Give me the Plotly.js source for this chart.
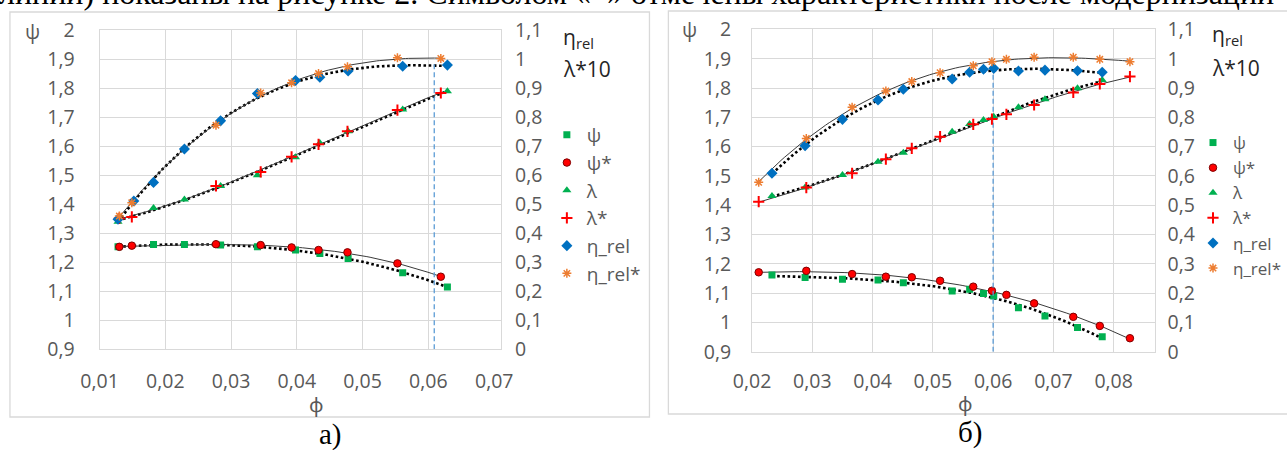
<!DOCTYPE html>
<html><head><meta charset="utf-8">
<script src="https://cdn.plot.ly/plotly-3.0.1.min.js"></script>
<style>html,body{margin:0;padding:0;background:#fff;overflow:hidden}#chart{width:1287px;height:450px}</style>
</head><body><div id="chart"></div>
<script>
// ---------- Chart а) ----------
const phiA      = [0.0128, 0.0182, 0.0229, 0.0284, 0.0340, 0.0398, 0.0435, 0.0478, 0.0561, 0.0629];
const psiA      = [1.253, 1.261, 1.261, 1.259, 1.253, 1.242, 1.230, 1.213, 1.164, 1.115];
const lambda10A = [0.439, 0.487, 0.516, 0.563, 0.600, 0.662, 0.711, 0.751, 0.826, 0.889];
const phiEtaA   = [0.0128, 0.0152, 0.0182, 0.0229, 0.0284, 0.0340, 0.0398, 0.0435, 0.0478, 0.0561, 0.0629];
const etaA      = [0.448, 0.511, 0.575, 0.690, 0.787, 0.881, 0.926, 0.937, 0.959, 0.975, 0.979];
const phiStarA      = [0.0130, 0.0149, 0.0277, 0.0345, 0.0392, 0.0433, 0.0477, 0.0553, 0.0619];
const psiStarA      = [1.253, 1.257, 1.262, 1.259, 1.251, 1.242, 1.234, 1.196, 1.150];
const lambda10StarA = [0.451, 0.456, 0.563, 0.611, 0.663, 0.706, 0.751, 0.824, 0.883];
const etaStarA      = [0.459, 0.505, 0.772, 0.883, 0.918, 0.950, 0.973, 1.004, 1.002];
const markA_phi = [0.0609, 0.0609];
const markA_val = [0, 0.99];

// ---------- Chart б) ----------
const phiB      = [0.0233, 0.0288, 0.0350, 0.0409, 0.0451, 0.0532, 0.0561, 0.0584, 0.0601, 0.0642, 0.0686, 0.0740, 0.0781];
const psiB      = [1.162, 1.153, 1.147, 1.145, 1.135, 1.107, 1.113, 1.099, 1.090, 1.050, 1.022, 0.983, 0.951];
const lambda10B = [0.531, 0.560, 0.603, 0.648, 0.679, 0.751, 0.777, 0.791, 0.802, 0.834, 0.862, 0.899, 0.927];
const etaB      = [0.609, 0.703, 0.793, 0.859, 0.896, 0.931, 0.954, 0.964, 0.967, 0.958, 0.961, 0.959, 0.954];
const phiStarB      = [0.0211, 0.0290, 0.0366, 0.0422, 0.0465, 0.0512, 0.0567, 0.0598, 0.0622, 0.0668, 0.0733, 0.0777, 0.0827];
const psiStarB      = [1.171, 1.176, 1.165, 1.156, 1.154, 1.142, 1.122, 1.108, 1.094, 1.065, 1.019, 0.988, 0.946];
const lambda10StarB = [0.512, 0.560, 0.609, 0.657, 0.694, 0.734, 0.776, 0.794, 0.810, 0.842, 0.885, 0.914, 0.939];
const etaStarB      = [0.578, 0.728, 0.834, 0.890, 0.922, 0.952, 0.976, 0.990, 0.998, 1.005, 1.005, 0.998, 0.990];
const markB_phi = [0.0600, 0.0600];
const markB_val = [0, 0.985];

// ---------- Tick values ----------
const xTicksA = [0.01, 0.02, 0.03, 0.04, 0.05, 0.06];
const xTicksB = [0.02, 0.03, 0.04, 0.05, 0.06, 0.07, 0.08];
const psiTicks = [0.9, 1.0, 1.1, 1.2, 1.3, 1.4, 1.5, 1.6, 1.7, 1.8, 1.9, 2.0];
const rightTicks = [0, 0.1, 0.2, 0.3, 0.4, 0.5, 0.6, 0.7, 0.8, 0.9, 1.0, 1.1];
const seriesNames = ['ψ', 'ψ*', 'λ', 'λ*', 'η_rel', 'η_rel*'];

const W = 1287, H = 450;
const px = v => v / W, py = v => 1 - v / H;
const fmt = v => String(+v.toFixed(3)).replace('.', ',');
const FONT = 'Open Sans, Noto Sans, sans-serif';
const GRAY = '#595959', GRID = '#d9d9d9';

// Least-squares polynomial trendline (as Excel's trendline) of the points
function polyfit(xs, ys, deg) {
  const n = xs.length, mx = xs.reduce((a, b) => a + b) / n;
  const sx = (Math.max(...xs) - Math.min(...xs)) / 2;
  const t = xs.map(x => (x - mx) / sx), m = deg + 1;
  const A = [...Array(m)].map(() => Array(m + 1).fill(0));
  for (let i = 0; i < n; i++) for (let r = 0; r < m; r++) {
    for (let c = 0; c < m; c++) A[r][c] += Math.pow(t[i], r + c);
    A[r][m] += ys[i] * Math.pow(t[i], r);
  }
  for (let k = 0; k < m; k++) {
    let p = k; for (let r = k + 1; r < m; r++) if (Math.abs(A[r][k]) > Math.abs(A[p][k])) p = r;
    [A[k], A[p]] = [A[p], A[k]];
    for (let r = 0; r < m; r++) { if (r === k) continue; const f = A[r][k] / A[k][k]; for (let c = k; c <= m; c++) A[r][c] -= f * A[k][c]; }
  }
  const coef = A.map((row, i) => row[m] / row[i]);
  return x => { const tt = (x - mx) / sx; return coef.reduce((s, c, i) => s + c * Math.pow(tt, i), 0); };
}
function trendTrace(xs, ys, deg, xa, ya, star) {
  const f = polyfit(xs, ys, deg), lo = Math.min(...xs), hi = Math.max(...xs), X = [], Y = [];
  for (let i = 0; i <= 100; i++) { const x = lo + (hi - lo) * i / 100; X.push(x); Y.push(f(x)); }
  return { x: X, y: Y, xaxis: xa, yaxis: ya, mode: 'lines', showlegend: false, hoverinfo: 'skip',
    line: star ? { color: '#3a3a3a', width: 1 } : { color: '#000', width: 2.6, dash: '2.6px,2.6px' } };
}
const markerStyles = [
  { symbol: 'square', size: 7, color: '#00b050' },
  { symbol: 'circle', size: 7.5, color: '#ff0000', line: { color: '#7f0000', width: 1 } },
  { symbol: 'triangle-up', size: 8, color: '#00b050' },
  { symbol: 'cross-thin', size: 8, color: '#ff0000', line: { color: '#ff0000', width: 2 } },
  { symbol: 'diamond', size: 8.5, color: '#0070c0' },
  { symbol: 'asterisk-open', size: 7.5, color: '#ed7d31', line: { color: '#ed7d31', width: 1.5 } }
];
function build(xa, yl, yr, leg, sets, mark) {
  const tr = [];
  sets.forEach((s, i) => tr.push(trendTrace(s[0], s[1], 3, xa, s[2] ? yl : yr, i % 2 === 1)));
  tr.push({ x: mark[0], y: mark[1], xaxis: xa, yaxis: yr, mode: 'lines', showlegend: false, hoverinfo: 'skip',
    line: { color: '#5b9bd5', width: 1.3, dash: '5px,3px' } });
  sets.forEach((s, i) => tr.push({ x: s[0], y: s[1], xaxis: xa, yaxis: s[2] ? yl : yr, mode: 'markers',
    name: seriesNames[i], legend: leg, marker: markerStyles[i] }));
  return tr;
}
const traces = [].concat(
  build('x', 'y', 'y2', 'legend', [
    [phiA, psiA, true], [phiStarA, psiStarA, true],
    [phiA, lambda10A, false], [phiStarA, lambda10StarA, false],
    [phiEtaA, etaA, false], [phiStarA, etaStarA, false]], [markA_phi, markA_val]),
  build('x2', 'y3', 'y4', 'legend2', [
    [phiB, psiB, true], [phiStarB, psiStarB, true],
    [phiB, lambda10B, false], [phiStarB, lambda10StarB, false],
    [phiB, etaB, false], [phiStarB, etaStarB, false]], [markB_phi, markB_val])
);

const tickFont = { family: FONT, size: 19.5, color: GRAY };
const xBase = { showgrid: true, gridcolor: GRID, gridwidth: 1, zeroline: false, showline: true, mirror: true,
  linecolor: GRID, linewidth: 1, ticks: '', tickfont: tickFont, ticklabelstandoff: 14, fixedrange: true };
const yBase = { showgrid: true, gridcolor: GRID, gridwidth: 1, zeroline: false, showline: true, mirror: true,
  linecolor: GRID, linewidth: 1, ticks: '', tickfont: tickFont, fixedrange: true,
  tickvals: psiTicks, ticktext: psiTicks.map(fmt), range: [0.9, 2.0] };
const yRight = { showgrid: false, zeroline: false, showline: false, ticks: '', tickfont: tickFont, side: 'right',
  tickvals: rightTicks, ticktext: rightTicks.map(fmt), range: [0, 1.1], fixedrange: true };

const ann = (text, x, y, opt) => Object.assign({ text, x: px(x), y: py(y), xref: 'paper', yref: 'paper',
  showarrow: false, xanchor: 'center', yanchor: 'middle', font: { family: FONT, size: 20, color: GRAY } }, opt || {});
const serif = s => ({ family: 'Liberation Serif, Times New Roman, serif', size: s, color: '#000' });
const dark = s => ({ family: FONT, size: s, color: '#262626' });

const layout = {
  width: W, height: H, margin: { l: 0, r: 0, t: 0, b: 0 }, paper_bgcolor: '#fff', plot_bgcolor: 'rgba(0,0,0,0)',
  showlegend: true,
  xaxis: Object.assign({}, xBase, { domain: [px(100), px(503)], range: [0.01, 0.07106], anchor: 'y',
    tickvals: xTicksA, ticktext: xTicksA.map(fmt) }),
  yaxis: Object.assign({}, yBase, { domain: [py(349.3), py(30)], anchor: 'x', ticklabelstandoff: 20 }),
  yaxis2: Object.assign({}, yRight, { overlaying: 'y', anchor: 'x', ticklabelstandoff: 13 }),
  xaxis2: Object.assign({}, xBase, { domain: [px(755), px(1160)], range: [0.02, 0.08694], anchor: 'y3',
    tickvals: xTicksB, ticktext: xTicksB.map(fmt), ticklabelstandoff: 12 }),
  yaxis3: Object.assign({}, yBase, { domain: [py(351.7), py(29.4)], anchor: 'x2', ticklabelstandoff: 16 }),
  yaxis4: Object.assign({}, yRight, { overlaying: 'y3', anchor: 'x2', ticklabelstandoff: 11 }),
  legend: { x: px(549), y: py(116), xanchor: 'left', yanchor: 'top', bgcolor: 'rgba(0,0,0,0)',
    font: { family: FONT, size: 19, color: GRAY }, tracegroupgap: 0 },
  legend2: { x: px(1198), y: py(125), xanchor: 'left', yanchor: 'top', bgcolor: 'rgba(0,0,0,0)',
    font: { family: FONT, size: 17, color: GRAY }, tracegroupgap: 0 },
  shapes: [
    { type: 'rect', xref: 'paper', yref: 'paper', x0: px(10), x1: px(652), y0: py(417), y1: py(12), line: { color: GRID, width: 1.3 } },
    { type: 'rect', xref: 'paper', yref: 'paper', x0: px(671), x1: px(1300), y0: py(414), y1: py(11), line: { color: GRID, width: 1.3 } }
  ],
  annotations: [
    ann('линии) показаны на рисунке 2. Символом «*» отмечены характеристики после модернизации', -3, -7,
      { xanchor: 'left', font: serif(32) }),
    ann('0,07', 0, 380, { x: 0.07, xref: 'x', font: tickFont }),
    ann('ψ', 33, 31), ann('ψ', 692, 30),
    ann('ϕ', 318, 404), ann('ϕ', 969, 403),
    ann('η<sub>rel</sub>', 563, 38, { xanchor: 'left', font: dark(21) }),
    ann('λ*10', 563, 69, { xanchor: 'left', font: dark(21) }),
    ann('η<sub>rel</sub>', 1215, 35, { xanchor: 'left', font: dark(21) }),
    ann('λ*10', 1215, 68, { xanchor: 'left', font: dark(21) }),
    ann('а)', 318, 434, { xanchor: 'left', font: serif(29) }),
    ann('б)', 960, 432, { xanchor: 'left', font: serif(29) })
  ]
};
Plotly.newPlot('chart', traces, layout, { staticPlot: true, displayModeBar: false });
</script></body></html>
